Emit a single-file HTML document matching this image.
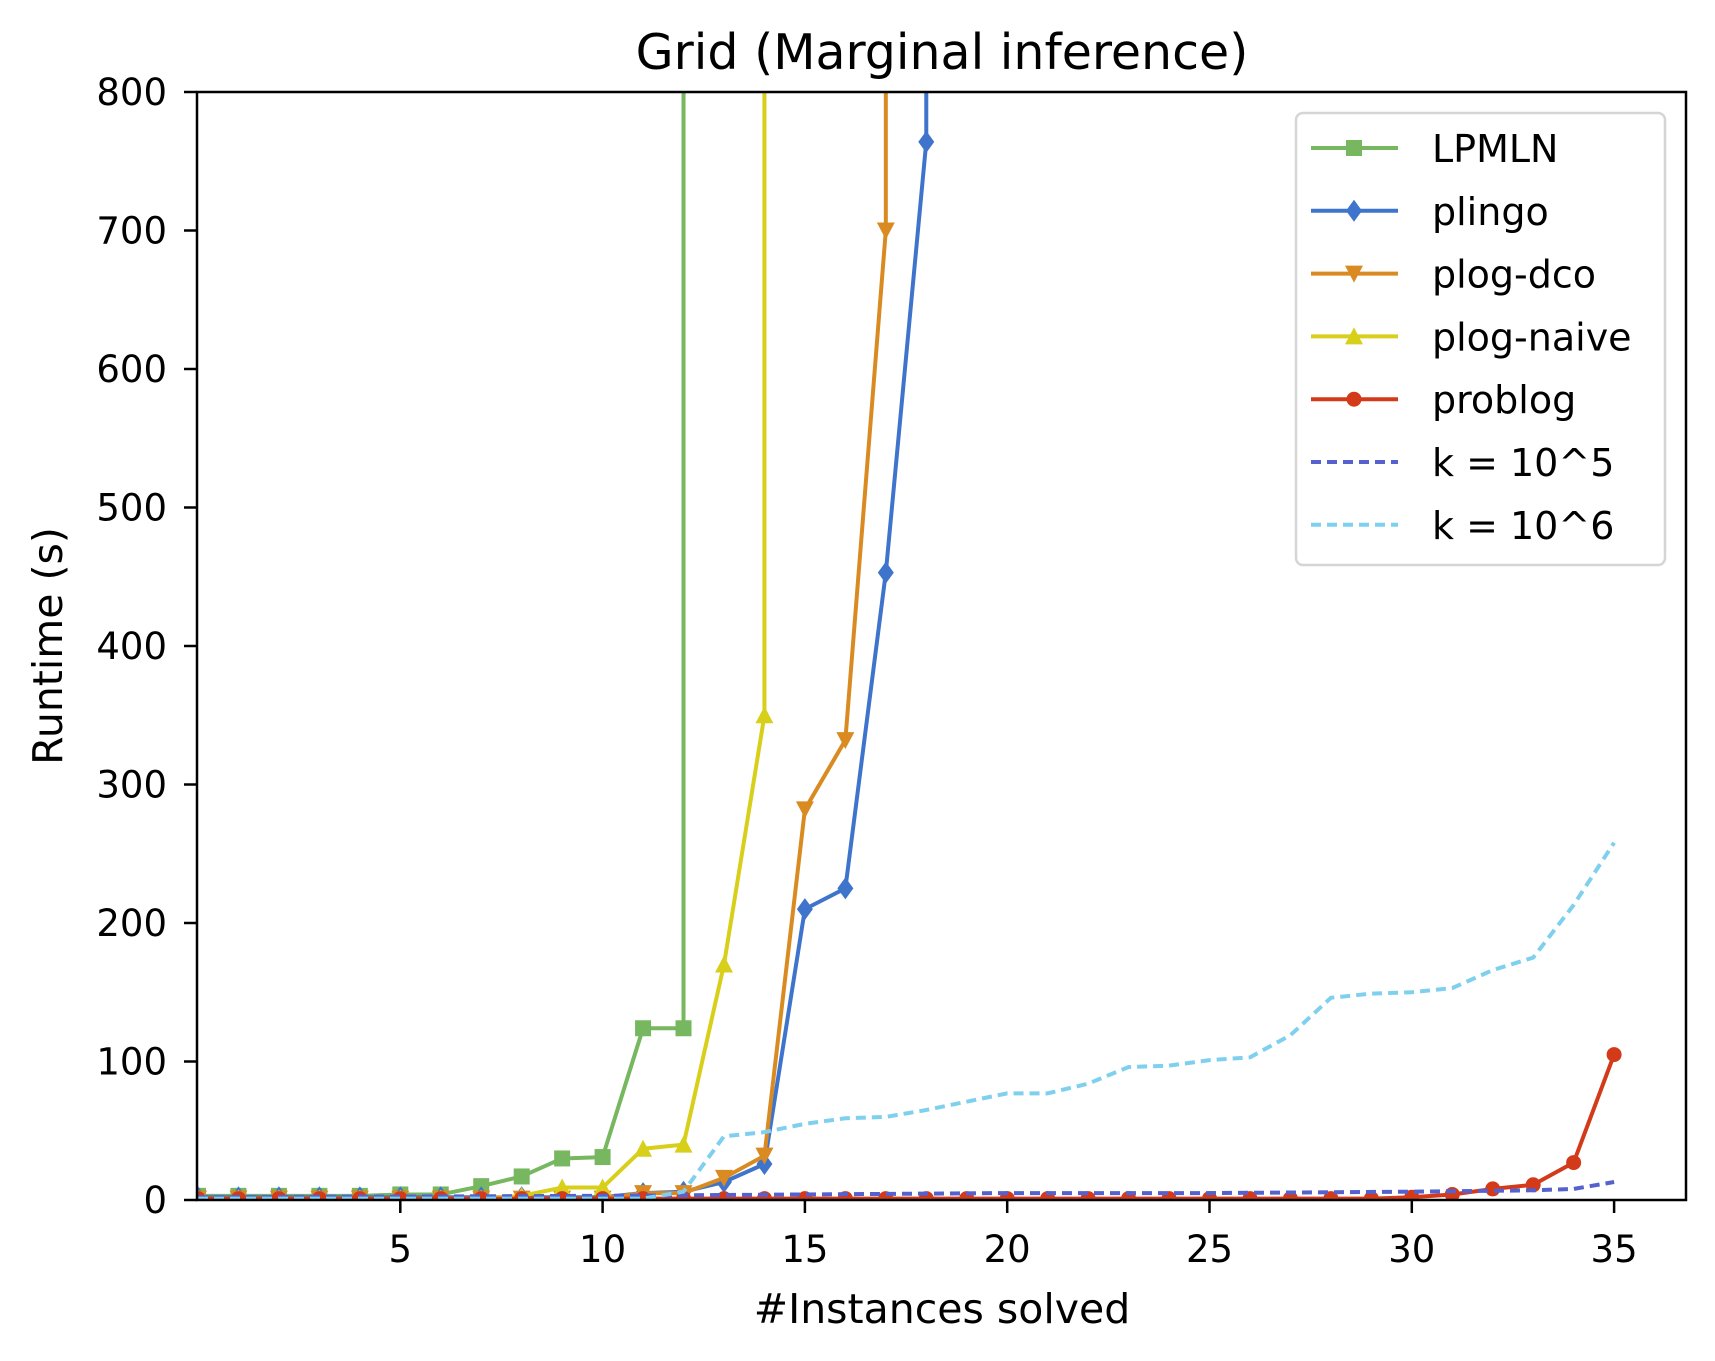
<!DOCTYPE html>
<html><head><meta charset="utf-8"><style>body{margin:0;background:#fff}svg{display:block;font-family:"DejaVu Sans","Liberation Sans",sans-serif}</style></head>
<body>
<svg id="chart" width="1715" height="1361">
<defs><clipPath id="clip"><rect x="197" y="92" width="1489" height="1108"/></clipPath></defs>
<rect x="0" y="0" width="1715" height="1361" fill="#fff"/>
<text x="942" y="69" text-anchor="middle" font-size="49">Grid (Marginal inference)</text>
<g id="plot" clip-path="url(#clip)"></g>
<rect x="197" y="92" width="1489" height="1108" fill="none" stroke="#000" stroke-width="2.5"/>
<g id="axes"></g>
<text x="942" y="1323" text-anchor="middle" font-size="41">#Instances solved</text>
<text transform="translate(62,646) rotate(-90)" text-anchor="middle" font-size="41">Runtime (s)</text>
<g id="legend"></g>
</svg>
<script>
const xTicks=[5,10,15,20,25,30,35];
const yTicks=[0,100,200,300,400,500,600,700,800];
const lpmlnX=[0,1,2,3,4,5,6,7,8,9,10,11,12,12];
const lpmlnY=[3,3,3,3,3,4,4,10,17,30,31,124,124,5000];
const plingoX=[0,1,2,3,4,5,6,7,8,9,10,11,12,13,14,15,16,17,18,18];
const plingoY=[2,2,2,2,2,2,2,2,2,2,2,5,6,13,26,210,225,453,764,5000];
const dcoX=[0,1,2,3,4,5,6,7,8,9,10,11,12,13,14,15,16,17,17];
const dcoY=[1,1,1,1,1,1,1,1,1,1,1,5,5,16,32,282,332,700,5000];
const naiveX=[0,1,2,3,4,5,6,7,8,9,10,11,12,13,14,14];
const naiveY=[1,1,1,1,1,1,1,1,3,9,9,37,40,170,350,5000];
const problogX=[0,1,2,3,4,5,6,7,8,9,10,11,12,13,14,15,16,17,18,19,20,21,22,23,24,25,26,27,28,29,30,31,32,33,34,35];
const problogY=[1,1,1,1,1,1,1,1,1,1,1,1,1,1,1,1,1,1,1,1,1,1,1,1,1,1,1,1,1,1,2,4,8,11,27,105];
const k5X=[0,5,10,15,20,25,30,33,34,35];
const k5Y=[2,2.5,3,4,5,5,6,7,8,13];
const k6X=[0,11,12,13,14,15,16,17,18,19,20,21,22,23,24,25,26,27,28,29,30,31,32,33,34,35];
const k6Y=[1,1,6,46,49,55,59,60,65,71,77,77,84,96,97,101,103,119,146,149,150,153,166,175,213,258];

const NS='http://www.w3.org/2000/svg';
const X=v=>198+v*40.46;
const Y=v=>1200-v*(1108/800);
function mk(t,a,p){const e=document.createElementNS(NS,t);for(const k in a)e.setAttribute(k,a[k]);p.appendChild(e);return e;}
const plot=document.getElementById('plot'),axes=document.getElementById('axes'),leg=document.getElementById('legend');

xTicks.forEach(t=>{
  const l=mk('line',{x1:X(t),x2:X(t),y1:1200,y2:1213,stroke:'#000','stroke-width':2.5},axes);
  
  
  const tx=mk('text',{x:X(t),y:1262,'text-anchor':'middle','font-size':37},axes);tx.textContent=t;
  
  
});
yTicks.forEach(t=>{
  const l=mk('line',{x1:184,x2:197,y1:Y(t),y2:Y(t),stroke:'#000','stroke-width':2.5},axes);
  
  
  const tx=mk('text',{x:167,y:Y(t)+13,'text-anchor':'end','font-size':37},axes);tx.textContent=t;
  
  
});

function marker(type,x,y,c,g){
  const s=8;let e;
  if(type==='s')e=mk('rect',{x:x-s,y:y-s,width:2*s,height:2*s,fill:c},g);
  else if(type==='d')e=mk('polygon',{points:`${x},${y-11} ${x+8},${y} ${x},${y+11} ${x-8},${y}`,fill:c},g);
  else if(type==='v')e=mk('polygon',{points:`${x-9},${y-8} ${x+9},${y-8} ${x},${y+9}`,fill:c},g);
  else if(type==='^')e=mk('polygon',{points:`${x-9},${y+8} ${x+9},${y+8} ${x},${y-9}`,fill:c},g);
  else if(type==='o')e=mk('circle',{cx:x,cy:y,r:7.5,fill:c},g);
  return e;
}
const series=[
 ['lpmln',lpmlnX,lpmlnY,'#77b760','s',null,'LPMLN'],
 ['plingo',plingoX,plingoY,'#3f74cc','d',null,'plingo'],
 ['plog-dco',dcoX,dcoY,'#d98b22','v',null,'plog-dco'],
 ['plog-naive',naiveX,naiveY,'#d8cf1b','^',null,'plog-naive'],
 ['problog',problogX,problogY,'#d33a1a','o',null,'problog'],
 ['k-1e5',k5X,k5Y,'#5561cf',null,'10 6','k = 10^5'],
 ['k-1e6',k6X,k6Y,'#7fd0ee',null,'10 6','k = 10^6']
];
series.forEach(([n,xs,ys,c,m,dash])=>{
  const g=mk('g',{},plot);
  
  
  const pts=xs.map((x,i)=>X(x)+','+Y(ys[i])).join(' ');
  const a={points:pts,fill:'none',stroke:c,'stroke-width':4,'stroke-linejoin':'round'};
  if(dash)a['stroke-dasharray']=dash;
  const pl=mk('polyline',a,g);
  
  
  if(m)xs.forEach((x,i)=>{if(ys[i]<2000){const e=marker(m,X(x),Y(ys[i]),c,g);
    
    }});
});

const box=mk('rect',{x:1296,y:113,width:369,height:452,rx:7,fill:'#fff','fill-opacity':0.8,stroke:'#d5d5d5','stroke-width':2.5},leg);


series.forEach(([n,xs,ys,c,m,dash,label],i)=>{
  const y=148+i*62.8;
  const g=mk('g',{},leg);
  
  
  const a={x1:1311,x2:1398,y1:y,y2:y,stroke:c,'stroke-width':4};
  if(dash)a['stroke-dasharray']=dash;
  mk('line',a,g);
  if(m)marker(m,1354,y,c,g);
  const t=mk('text',{x:1432,y:y+14,'font-size':38},g);t.textContent=label;
});
</script>
</body></html>
